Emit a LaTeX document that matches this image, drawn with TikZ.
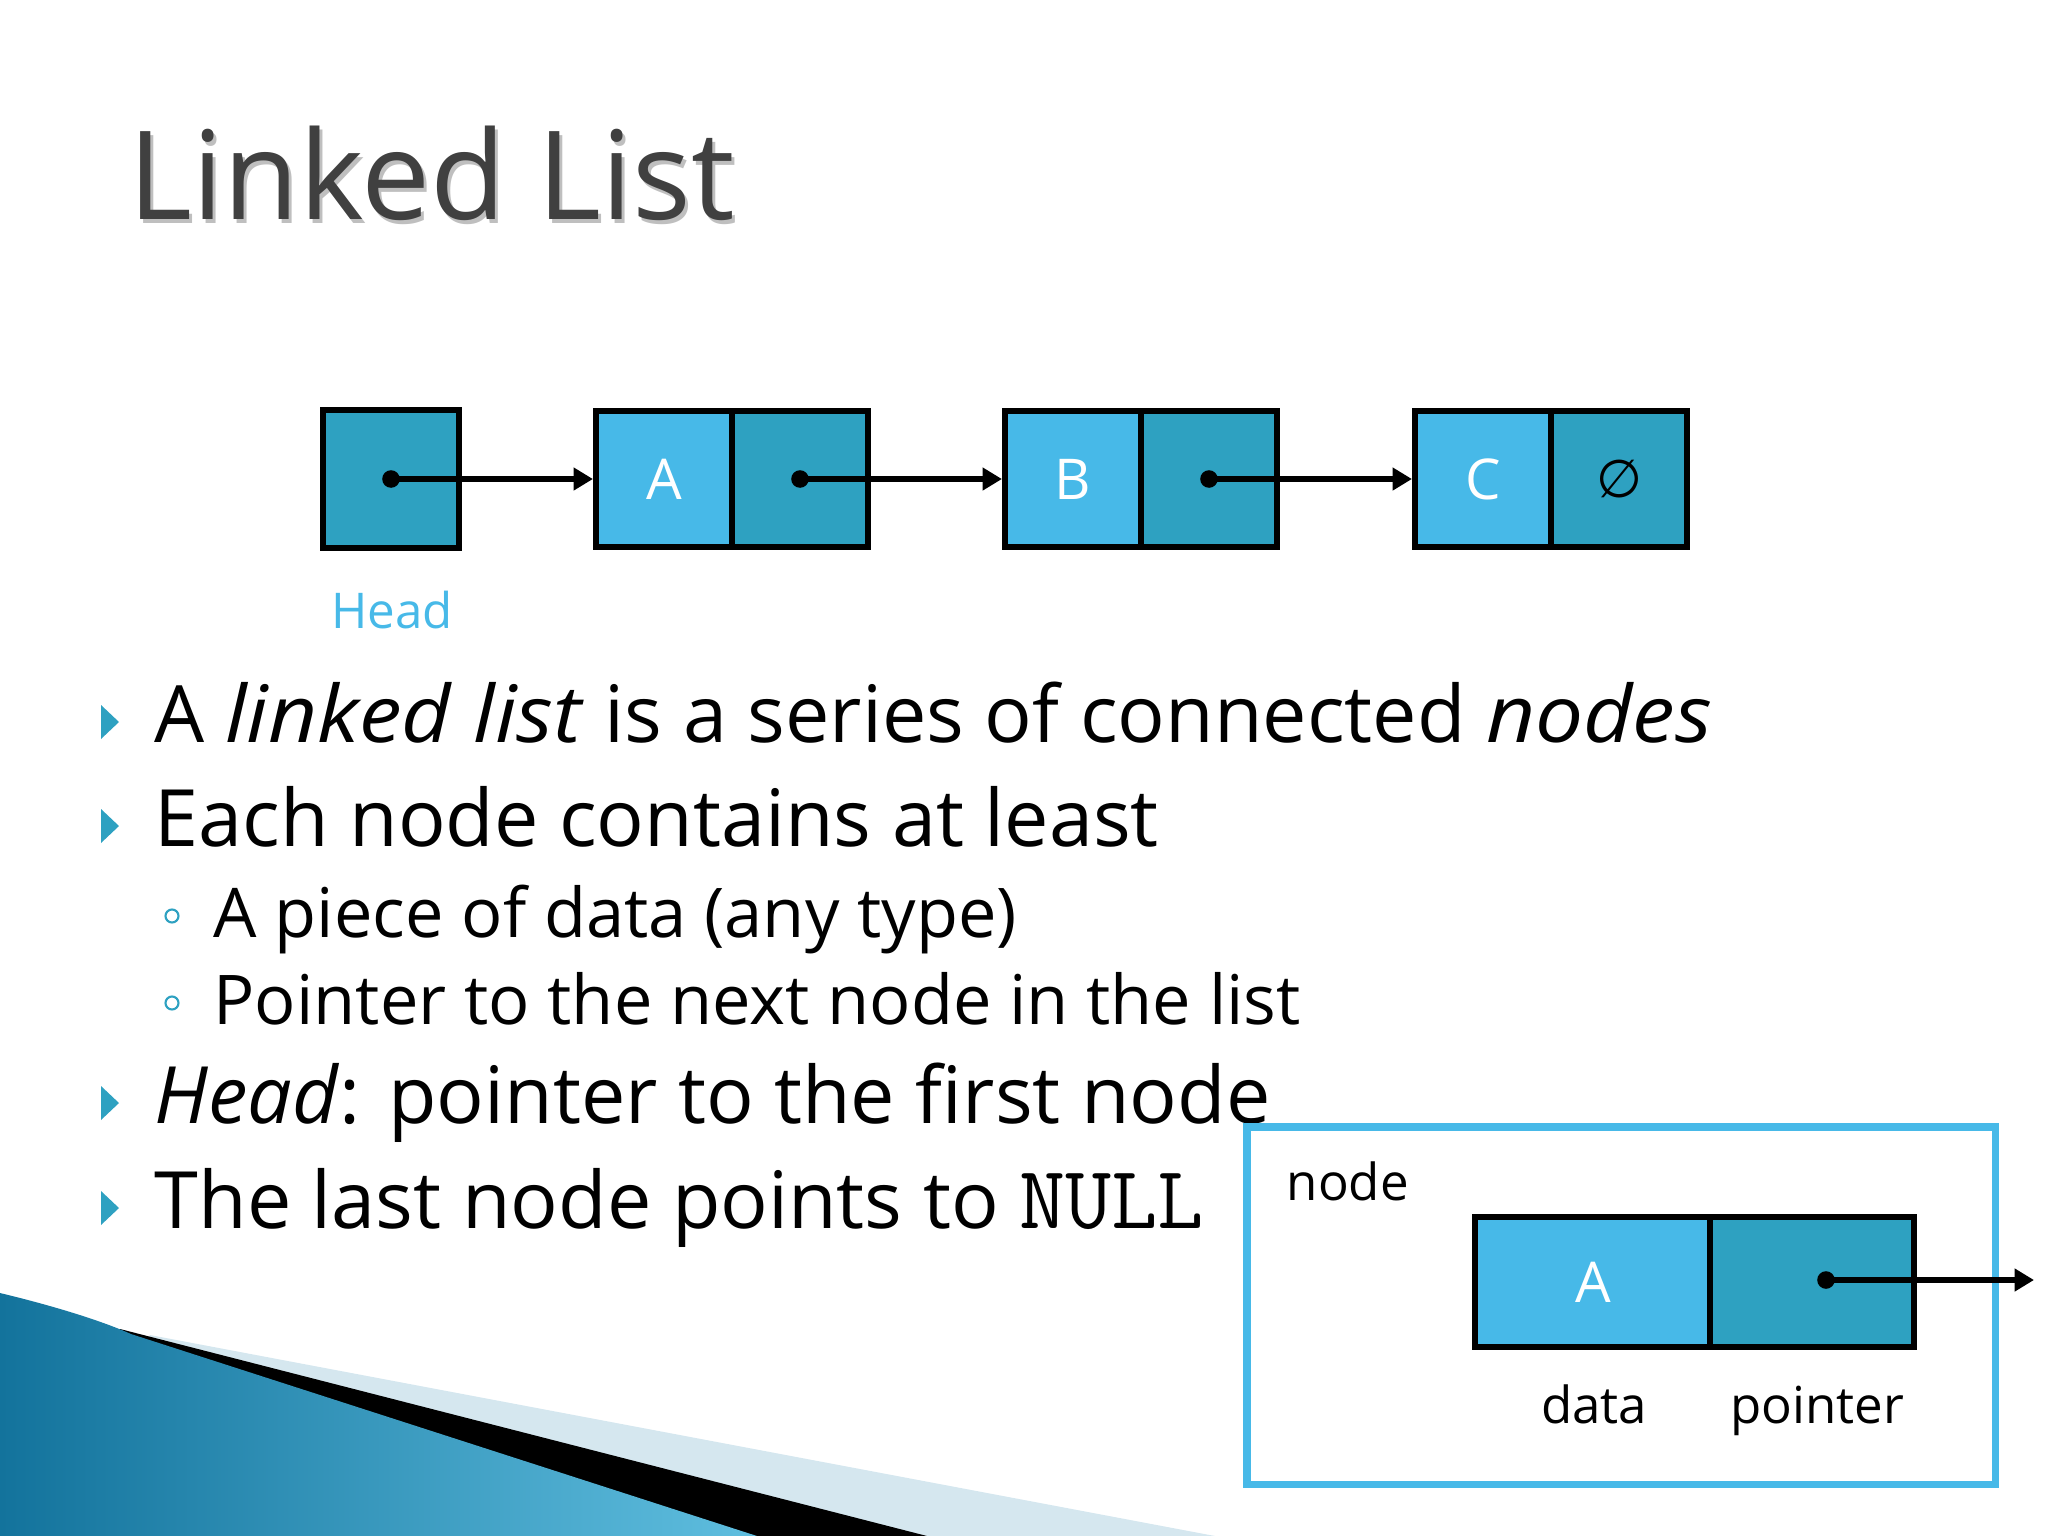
\documentclass[tikz,border=0pt]{standalone}
\usepackage{fontspec}
\setmainfont{Open Sans}
\newfontfamily\dejavu{DejaVu Sans}
\usetikzlibrary{arrows.meta}
\definecolor{cellA}{HTML}{47B9E8}
\definecolor{cellP}{HTML}{2EA1C1}
\definecolor{titlegray}{HTML}{404040}
\definecolor{swteal}{HTML}{13739C}
\definecolor{swlight}{HTML}{5FBEDF}
\definecolor{swpale}{HTML}{D5E7EF}
\newcommand{\wideit}[1]{\scalebox{1.08}[1]{\textit{#1}}}
\begin{document}
\begin{tikzpicture}[x=0.01cm,y=-0.01cm,
	datacell/.style={ draw=black, line width=1.7pt, fill=cellA, minimum width=1.36cm, minimum height=1.36cm, inner sep=0pt, text=white, font=\fontsize{16}{16}\selectfont },
	ptrcell/.style={ draw=black, line width=1.7pt, fill=cellP, minimum width=1.36cm, minimum height=1.36cm, inner sep=0pt },
	vertex/.style={ circle, fill, inner sep=0pt, minimum size=5pt },
	link/.style={ line width=1.5pt, -{Triangle[length=5.5pt,width=6.2pt]} },
	item/.style={ anchor=base west, inner sep=0pt, font=\fontsize{22.5}{22.5}\selectfont },
	subitem/.style={ anchor=base west, inner sep=0pt, font=\fontsize{19.5}{19.5}\selectfont },
	small/.style={ anchor=base, inner sep=0pt, font=\fontsize{14.5}{14.5}\selectfont }
]
\useasboundingbox (0,0) rectangle (2048,1536);

% swoosh in the corner
\fill[swpale] (150,1335) -- (1215,1536) -- (0,1536) -- cycle;
\fill[black] (120,1329) -- (927,1536) -- (0,1536) -- cycle;
\shade[left color=swteal, right color=swlight] (0,1293)
	.. controls (50,1305) and (100,1320) .. (131,1334) -- (757,1536) -- (0,1536) -- cycle;

% title
\node[anchor=base west, inner sep=0pt, text=black!25, font=\fontsize{35}{35}\selectfont] at (131,223) {Linked List};
\node[anchor=base west, inner sep=0pt, text=titlegray, font=\fontsize{35}{35}\selectfont] (title) at (128,219) {Linked List};

% the list
\node[ptrcell, minimum height=1.38cm] (head) at (391,479) {};
\node[small, text=cellA, font=\fontsize{14}{14}\selectfont] (headlbl) at (392,628) {Head};
\node[datacell] (a) at (664,479) {A};
\node[ptrcell] (ap) at (800,479) {};
\node[datacell] (b) at (1073,479) {B};
\node[ptrcell] (bp) at (1209,479) {};
\node[datacell] (c) at (1483,479) {C};
\node[ptrcell] (cp) at (1619,479) {\dejavu\fontsize{15}{15}\selectfont ∅};
\node[vertex] (hd) at (head.center) {};
\node[vertex] (ad) at (ap.center) {};
\node[vertex] (bd) at (bp.center) {};
\draw[link] (hd.center) -- (a.west);
\draw[link] (ad.center) -- (b.west);
\draw[link] (bd.center) -- (c.west);

% bullets
\fill[cellP] (101,705) -- (119,722) -- (101,739) -- cycle;
\fill[cellP] (101,809) -- (119,826) -- (101,843) -- cycle;
\fill[cellP] (101,1086) -- (119,1103) -- (101,1120) -- cycle;
\fill[cellP] (101,1191) -- (119,1208) -- (101,1225) -- cycle;
\draw[cellP, line width=0.6pt] (172,916) circle (6.5);
\draw[cellP, line width=0.6pt] (172,1003) circle (6.5);
\node[item] (l1) at (154,742) {A \wideit{linked list} is a series of connected \wideit{nodes}};
\node[item] (l2) at (154,846) {Each node contains at least};
\node[subitem] (s1) at (213,937) {A piece of data (any type)};
\node[subitem] (s2) at (213,1024) {Pointer to the next node in the list};
\node[item] (l3) at (154,1123) {\textit{Head}: pointer to the first node};
\node[item] (l4) at (154,1228) {The last node points to {\ttfamily\fontsize{25.5}{25.5}\selectfont NULL}};

% one node on its own
\draw[cellA, line width=2pt] (1247,1127) rectangle (1995,1484);
\node[small, anchor=base west] (nodelbl) at (1286,1200) {node};
\node[datacell, minimum width=2.35cm, minimum height=1.29cm] (n) at (1593,1282) {A};
\node[ptrcell, minimum width=2.03cm, minimum height=1.29cm] (np) at (1812,1282) {};
\node[vertex] (nd) at (1826,1280) {};
\coordinate (nend) at (2034,1280);
\draw[link] (nd.center) -- (nend);
\node[small] (datalbl) at (1594,1423) {data};
\node[small] (ptrlbl) at (1817,1423) {pointer};

\end{tikzpicture}
\end{document}
